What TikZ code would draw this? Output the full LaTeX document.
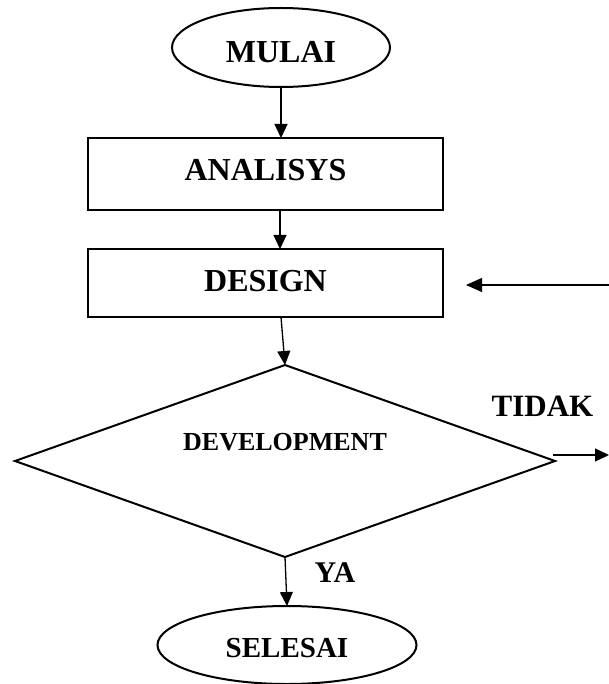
\documentclass[tikz,border=0pt]{standalone}
\usepackage{fontspec}
\setmainfont{Liberation Serif}
\usetikzlibrary{shapes.geometric,arrows.meta}
\begin{document}
\begin{tikzpicture}[x=1pt,y=-1pt,
  shapeline/.style={draw=black,line width=2pt,inner sep=0pt,outer sep=0pt,font=\bfseries},
  termbox/.style={shapeline,ellipse},
  procbox/.style={shapeline,rectangle,minimum width=355pt},
  decbox/.style={shapeline,diamond,aspect=2.8125,minimum width=540pt,minimum height=192pt},
  lbl/.style={font=\bfseries,inner sep=0pt,anchor=base},
  arr/.style={line width=1.3pt,-{Triangle[length=14pt,width=13pt]}},
  arrl/.style={line width=1.3pt,-{Triangle[length=16pt,width=14pt]}}
]
\useasboundingbox (0,0) rectangle (608,684);
\fill[white] (0,0) rectangle (608,684);

\node[termbox,minimum width=218pt,minimum height=79pt,text height=30pt,text depth=0pt,
  font=\bfseries\fontsize{32}{38}\selectfont] (mulai) at (281,47.5) {MULAI};
\node[procbox,minimum height=72pt,text height=22pt,text depth=8pt,
  font=\bfseries\fontsize{32}{38}\selectfont] (analisys) at (265.5,174) {ANALISYS};
\node[procbox,minimum height=68pt,text height=22pt,text depth=6pt,
  font=\bfseries\fontsize{32}{38}\selectfont] (design) at (265.5,283) {DESIGN};
\node[decbox,text height=18pt,text depth=40pt,
  font=\bfseries\fontsize{26}{31}\selectfont] (dev) at (285,461) {DEVELOPMENT};
\node[termbox,minimum width=259pt,minimum height=78pt,text height=24pt,text depth=0pt,
  font=\bfseries\fontsize{29}{35}\selectfont] (selesai) at (287,645) {SELESAI};

\node[lbl,font=\bfseries\fontsize{31}{37}\selectfont] (tidak) at (542.5,416) {TIDAK};
\node[lbl,font=\bfseries\fontsize{30}{36}\selectfont] (ya) at (335,582) {YA};

\coordinate (tidakend) at (609,455);
\coordinate (loopstart) at (609,285);

\draw[arr] (mulai.south) -- (mulai.south |- analisys.north);
\draw[arr] ([xshift=-1pt]mulai.south |- analisys.south) -- ([xshift=-1pt]mulai.south |- design.north);
\draw[arr] (design.south -| mulai.south) -- (dev.north);
\draw[arr] (dev.south) -- (selesai.north);
\draw[arr] ([xshift=-2pt,yshift=6pt]dev.east) -- (tidakend);
\draw[arrl] (loopstart) -- ([xshift=23pt]design.east |- loopstart);
\end{tikzpicture}
\end{document}
